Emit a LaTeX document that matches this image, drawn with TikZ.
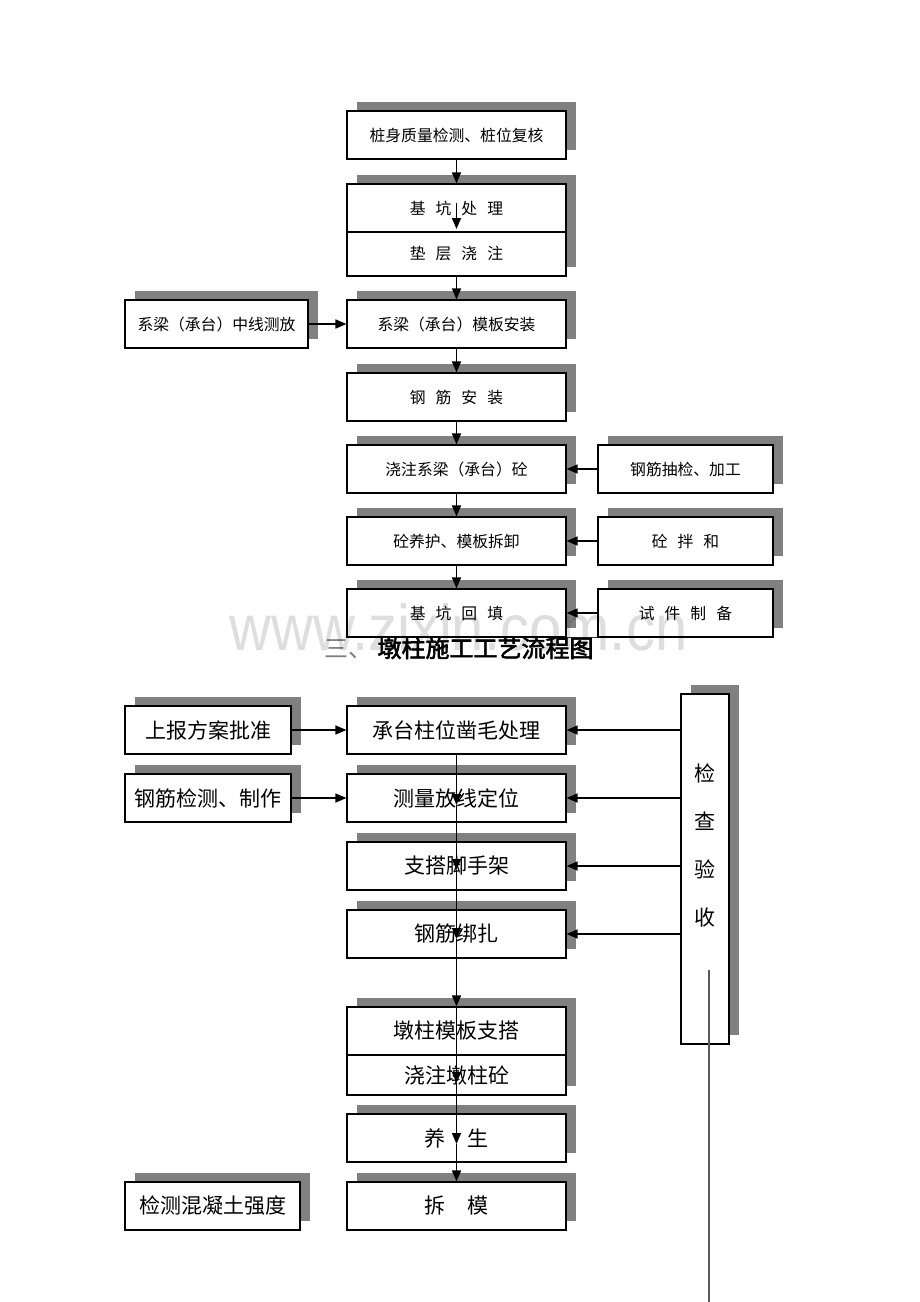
\documentclass[tikz,border=0pt]{standalone}
\usepackage{fontspec}
\newfontfamily\cjk{Noto Sans CJK SC}
\newfontfamily\cjkb[FakeBold=2.5]{Noto Sans CJK SC}
\newfontfamily\wmfont{Liberation Sans}
\usetikzlibrary{shadows,arrows.meta}
\definecolor{shade}{HTML}{808080}
\newcommand\sgap{\hspace{10pt}}
\newcommand\bgap{\hspace{22pt}}
\tikzset{
  box/.style={draw=black, line width=1.1pt, fill=white,
    general shadow={fill=shade, shadow xshift=10pt, shadow yshift=9pt},
    inner sep=0pt, minimum height=48pt},
  mainbox/.style={box, minimum width=219pt},
  small/.style={font=\cjk\fontsize{15.8}{18}\selectfont},
  big/.style={font=\cjk\fontsize{21}{25}\selectfont},
  conn/.style={line width=1.5pt, -{Triangle[length=11pt,width=9pt]}},
}
\begin{document}
\begin{tikzpicture}[x=1pt,y=-1pt]
\useasboundingbox (0,0) rectangle (920,1302);

% ---------- upper flow ----------
\node[mainbox, small] (t1) at (456.5,135) {桩身质量检测、桩位复核};
\node[mainbox, small, minimum height=44pt] (t2b) at (456.5,254) {垫\sgap 层\sgap 浇\sgap 注};
\node[mainbox, small] (t2a) at (456.5,208) {基\sgap 坑\sgap 处\sgap 理};
\node[mainbox, small] (t3) at (456.5,324) {系梁（承台）模板安装};
\node[box, small, minimum width=183pt] (t3l) at (216.5,324) {系梁（承台）中线测放};
\node[mainbox, small] (t4) at (456.5,397) {钢\sgap 筋\sgap 安\sgap 装};
\node[mainbox, small] (t5) at (456.5,469) {浇注系梁（承台）砼};
\node[box, small, minimum width=175pt] (t5r) at (685.5,469) {钢筋抽检、加工};
\node[mainbox, small] (t6) at (456.5,541) {砼养护、模板拆卸};
\node[box, small, minimum width=175pt] (t6r) at (685.5,541) {砼\sgap 拌\sgap 和};
\node[mainbox, small] (t7) at (456.5,613) {基\sgap 坑\sgap 回\sgap 填};
\node[box, small, minimum width=175pt] (t7r) at (685.5,613) {试\sgap 件\sgap 制\sgap 备};
\draw[line width=1.1pt, black!80] (t7.south east) -- (t7r.south west);

\coordinate (q1) at (456.5,203);
\coordinate (q2) at (456.5,229);
\draw[conn] (t1.south) -- (t2a.north);
\draw[conn] (q1) -- (q2);
\draw[conn] (t2b.south) -- (t3.north);
\draw[conn] (t3l.east) -- (t3.west);
\draw[conn] (t3.south) -- (t4.north);
\draw[conn] (t4.south) -- (t5.north);
\draw[conn] (t5r.west) -- (t5.east);
\draw[conn] (t5.south) -- (t6.north);
\draw[conn] (t6r.west) -- (t6.east);
\draw[conn] (t6.south) -- (t7.north);
\draw[conn] (t7r.west) -- (t7.east);

% ---------- heading ----------
\node[font=\cjk\fontsize{24}{28}\selectfont] (head) at (459,648)
  {\textcolor{gray}{三、}\hspace{5pt}{\cjkb 墩柱施工工艺流程图}};

% ---------- lower flow ----------
\node[mainbox, big] (b1) at (456.5,730) {承台柱位凿毛处理};
\node[box, big, minimum width=166pt] (b1l) at (208,730) {上报方案批准};
\node[mainbox, big] (b2) at (456.5,798) {测量放线定位};
\node[box, big, minimum width=166pt] (b2l) at (208,798) {钢筋检测、制作};
\node[mainbox, big] (b3) at (456.5,866) {支搭脚手架};
\node[mainbox, big] (b4) at (456.5,934) {钢筋绑扎};
\node[mainbox, big, minimum height=40pt] (b5b) at (456.5,1075) {浇注墩柱砼};
\node[mainbox, big] (b5a) at (456.5,1031) {墩柱模板支搭};
\node[mainbox, big] (b6) at (456.5,1138) {养\bgap 生};
\node[mainbox, big] (b7) at (456.5,1206) {拆\bgap 模};
\node[box, big, minimum width=175pt] (b7l) at (212.5,1206) {检测混凝土强度};

\node[box, minimum width=48pt, minimum height=350pt] (chk) at (705,869) {};
\node[font=\cjk\fontsize{21}{48}\selectfont, align=center] (chkt) at (705,845) {检\\查\\验\\收};
\coordinate (v1) at (709,970);
\coordinate (v2) at (709,1302);
\draw[line width=1.3pt, black!65] (v1) -- (v2);

\draw[conn] (b1l.east) -- (b1.west);
\draw[conn] (b2l.east) -- (b2.west);
\draw[conn] (chk.west |- b1.east) -- (b1.east);
\draw[conn] (chk.west |- b2.east) -- (b2.east);
\draw[conn] (chk.west |- b3.east) -- (b3.east);
\draw[conn] (chk.west |- b4.east) -- (b4.east);

\coordinate (pB) at (456.5,805);
\coordinate (pC) at (456.5,870);
\coordinate (pD) at (456.5,939);
\coordinate (pE) at (456.5,1083);
\coordinate (pF) at (456.5,1144);
\draw[conn] (b1.south) -- (pB);
\draw[conn] (pB) -- (pC);
\draw[conn] (pC) -- (pD);
\draw[conn] (pD) -- (b5a.north);
\draw[conn] (b5a.north) -- (pE);
\draw[conn] (pE) -- (pF);
\draw[conn] (pF) -- (b7.north);

% ---------- watermark ----------
\node[font=\wmfont\fontsize{58}{60}\selectfont, text=black, text opacity=0.13, anchor=base, inner sep=0pt]
  (wm) at (458.5,650) {\scalebox{1}[1.12]{www.zixin.com.cn}};
\end{tikzpicture}
\end{document}
